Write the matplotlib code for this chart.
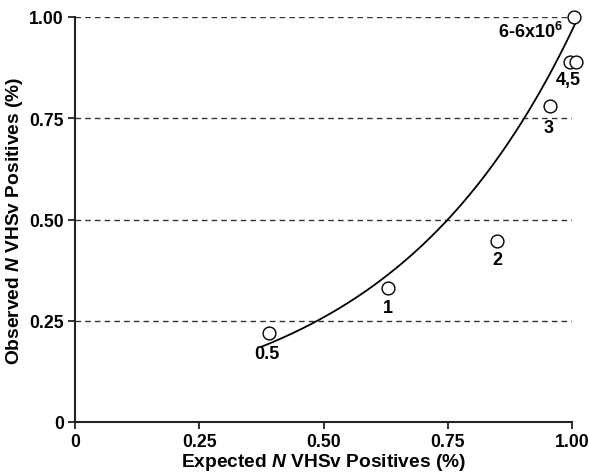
import numpy as np
import matplotlib
matplotlib.use("Agg")
import matplotlib.pyplot as plt

plt.rcParams['font.family'] = ['Liberation Sans', 'DejaVu Sans']
plt.rcParams['mathtext.fontset'] = 'custom'
plt.rcParams['mathtext.rm'] = 'Liberation Sans:bold'
plt.rcParams['mathtext.it'] = 'Liberation Sans:bold:italic'
plt.rcParams['mathtext.bf'] = 'Liberation Sans:bold'

# Data
expected = [0.39, 0.63, 0.85, 0.955, 0.995, 1.008, 1.004]
observed = [0.22, 0.33, 0.447, 0.78, 0.889, 0.889, 1.00]
labels = ['0.5', '1', '2', '3', '4,5', None, '6-6x10$^{6}$']
label_offsets_px = [(-2, -21), (0, -19), (0, -19), (-1, -21), (-1, -18), None, (-44, -14)]

# exponential fit curve parameters (y = a * exp(b * x))
fit_a = 0.069
fit_b = 2.64
fit_x_range = (0.376, 1.01)

ticks = [0, 0.25, 0.5, 0.75, 1.0]
tick_labels = ['0', '0.25', '0.50', '0.75', '1.00']
gridlines = [0.25, 0.5, 0.75, 1.0]

fig = plt.figure(figsize=(5.89, 4.77), dpi=100)
ax = fig.add_axes([75/589, 1-423/477, (572-75)/589, (423-18)/477])

for g in gridlines:
    ax.axhline(g, color='#333333', linestyle=(0, (4, 3)), linewidth=1.0, zorder=1)

xs = np.linspace(fit_x_range[0], fit_x_range[1], 200)
ax.plot(xs, fit_a*np.exp(fit_b*xs), color='black', linewidth=1.3, zorder=2, clip_on=False)

ax.scatter(expected, observed, s=85, facecolors='white', edgecolors='black',
           linewidths=1.0, zorder=3, clip_on=False)

for x, y, lab, off in zip(expected, observed, labels, label_offsets_px):
    if lab is None:
        continue
    ax.annotate(lab, (x, y), xytext=off, textcoords='offset pixels',
                ha='center', va='center', fontsize=13, fontweight='bold',
                zorder=4, annotation_clip=False)

ax.set_xlim(0, 1.0)
ax.set_ylim(0, 1.0)
ax.set_xticks(ticks)
ax.set_xticklabels(tick_labels)
ax.set_yticks(ticks)
ax.set_yticklabels(tick_labels)
for lab in ax.get_xticklabels() + ax.get_yticklabels():
    lab.set_fontweight('bold')
    lab.set_fontsize(12.7)

ax.spines['top'].set_visible(False)
ax.spines['right'].set_visible(False)
for s in ('left', 'bottom'):
    ax.spines[s].set_linewidth(1.5)
    ax.spines[s].set_color('#222222')
ax.tick_params(direction='out', length=5, width=1.3, color='#222222', pad=3)

ax.set_xlabel('Expected $N$ VHSv Positives (%)', fontsize=13.8, fontweight='bold', labelpad=1)
ax.set_ylabel('Observed $N$ VHSv Positives (%)', fontsize=13.8, fontweight='bold', labelpad=3)

fig.savefig('out.png', dpi=100)
